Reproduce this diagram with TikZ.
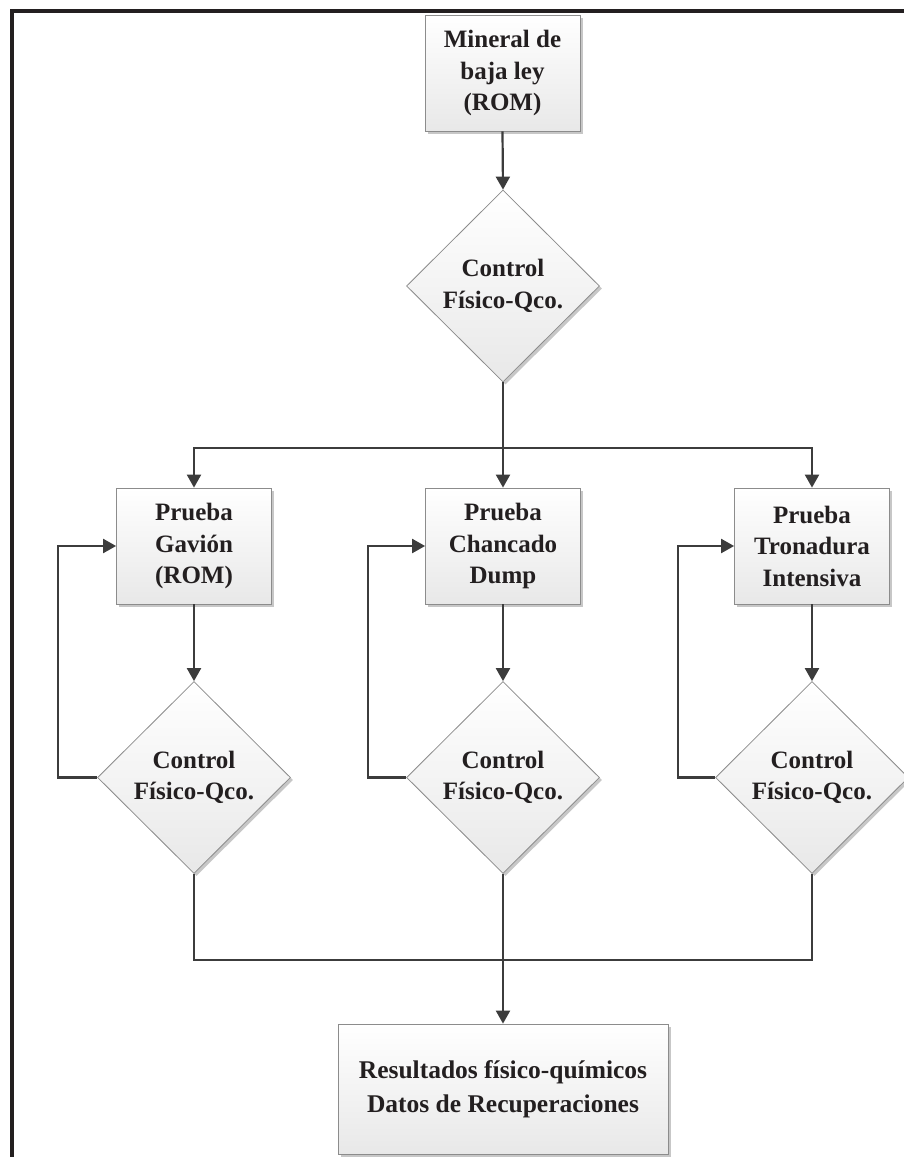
\documentclass[tikz,border=0pt]{standalone}
\usepackage{fontspec}
\setmainfont{Liberation Serif}
\usetikzlibrary{shapes.geometric,arrows.meta,shadows}
\definecolor{ln}{HTML}{3C3C3C}
\definecolor{tx}{HTML}{231F20}
\definecolor{bd}{HTML}{8C8C8C}
\begin{document}
\begin{tikzpicture}[x=1pt,y=1pt,
  shaded/.style={draw=bd, line width=0.8pt, top color=white, bottom color=black!9,
    drop shadow={shadow xshift=2.5pt, shadow yshift=-2.5pt, fill=black!22, opacity=1},
    font=\bfseries\fontsize{25}{31.5}\selectfont, text=tx, align=center, inner sep=0pt},
  procbox/.style={shaded, rectangle, minimum width=155pt, minimum height=116pt},
  resbox/.style={shaded, rectangle, minimum width=330pt, minimum height=130pt, font=\bfseries\fontsize{25.5}{34}\selectfont},
  decision/.style={shaded, diamond, aspect=1, minimum width=193pt, minimum height=192pt},
  conn/.style={draw=ln, line width=2.2pt, -{Triangle[length=13pt,width=14pt]}},
  link/.style={draw=ln, line width=2.2pt}]
\useasboundingbox (0,0) rectangle (903,-1157);
\fill[white] (0,0) rectangle (903,-1157);
\draw[line width=4pt, color=tx] (12,-1160) -- (12,-11.3) -- (906,-11.3);

\node[procbox] (top) at (502.5,-73) {Mineral de\\baja ley\\(ROM)};
\node[decision] (d0) at (503,-286) {Control\\Físico-Qco.};

\node[procbox] (b1) at (194,-546) {Prueba\\Gavión\\(ROM)};
\node[procbox] (b2) at (503,-546) {Prueba\\Chancado\\Dump};
\node[procbox] (b3) at (812,-546) {Prueba\\Tronadura\\Intensiva};

\node[decision] (d1) at (194,-777.5) {Control\\Físico-Qco.};
\node[decision] (d2) at (503,-777.5) {Control\\Físico-Qco.};
\node[decision] (d3) at (812,-777.5) {Control\\Físico-Qco.};

\node[resbox] (res) at (503,-1089) {Resultados físico-químicos\\Datos de Recuperaciones};

\coordinate (split) at (503,-448);
\coordinate (join) at (503,-960);
\coordinate (l1) at (58,-777.5);
\coordinate (l2) at (368,-777.5);
\coordinate (l3) at (678,-777.5);

\draw[conn] (top.south) -- (d0.north);
\draw[conn] (d0.south) -- (b2.north);
\draw[conn] (split) -| (b1.north);
\draw[conn] (split) -| (b3.north);

\draw[conn] (b1.south) -- (d1.north);
\draw[conn] (b2.south) -- (d2.north);
\draw[conn] (b3.south) -- (d3.north);

\draw[conn] (d1.west) -- (l1) |- (b1.west);
\draw[conn] (d2.west) -- (l2) |- (b2.west);
\draw[conn] (d3.west) -- (l3) |- (b3.west);

\draw[link] (d1.south) |- (join);
\draw[link] (d3.south) |- (join);
\draw[conn] (d2.south) -- (res.north);
\end{tikzpicture}
\end{document}
